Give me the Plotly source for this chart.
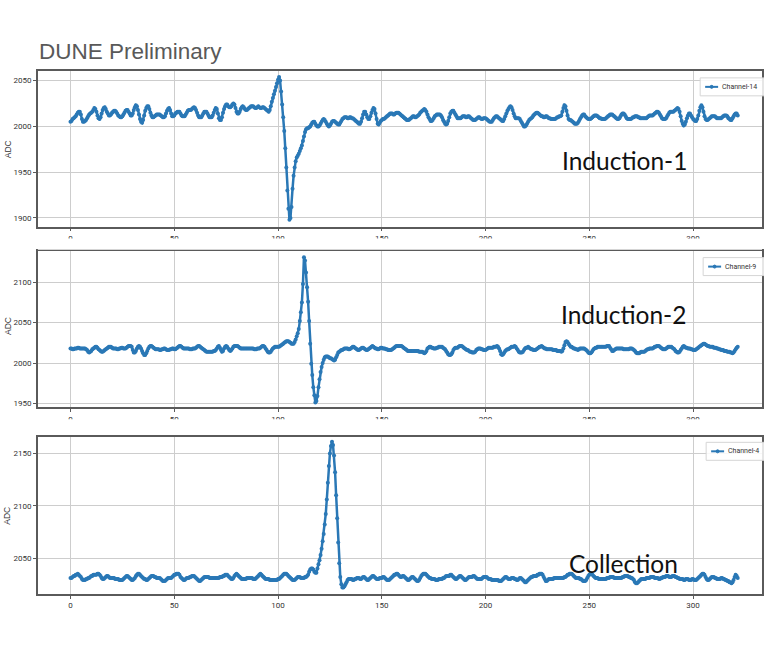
import plotly.graph_objects as go

W, H = 764, 667

# ---------------- data ----------------
sample_period_us = 0.5

induction1 = [
    2005,2006,2008,2009,2010,2011,2013,2015,2016,2016,2013,2008,2005,2005,2006,2007,2009,2011,2013,2014,
    2015,2016,2018,2020,2019,2016,2012,2009,2008,2010,2014,2018,2020,2021,2019,2016,2014,2012,2012,2013,
    2015,2016,2017,2017,2016,2014,2012,2011,2010,2010,2011,2013,2015,2017,2018,2018,2016,2014,2012,2012,
    2014,2018,2021,2023,2022,2018,2013,2008,2005,2004,2007,2012,2017,2020,2022,2022,2019,2015,2012,2010,
    2010,2011,2012,2013,2013,2013,2013,2012,2011,2010,2010,2011,2014,2017,2019,2020,2018,2014,2011,2011,
    2012,2014,2015,2016,2016,2016,2014,2012,2011,2011,2011,2013,2015,2017,2018,2018,2018,2019,2020,2021,
    2020,2018,2015,2012,2010,2010,2010,2012,2014,2016,2016,2016,2014,2012,2010,2010,2010,2012,2015,2018,
    2020,2019,2014,2009,2007,2007,2010,2015,2019,2022,2024,2024,2022,2021,2021,2022,2024,2025,2024,2020,
    2016,2014,2014,2016,2019,2021,2022,2021,2019,2018,2018,2019,2020,2021,2022,2022,2022,2021,2020,2020,
    2021,2022,2021,2020,2020,2021,2021,2020,2019,2018,2017,2016,2018,2022,2027,2031,2035,2039,2043,2047,
    2051,2054,2050,2038,2024,2010,1995,1976,1955,1930,1910,1898,1900,1912,1932,1946,1955,1962,1966,1968,
    1970,1973,1976,1979,1984,1989,1994,1997,1998,1998,1999,2000,2002,2004,2005,2005,2003,2001,2000,2000,
    2001,2003,2005,2007,2008,2007,2005,2003,2001,2000,2001,2003,2005,2006,2006,2005,2004,2003,2002,2002,
    2004,2006,2008,2009,2010,2010,2010,2009,2009,2010,2010,2009,2009,2008,2007,2006,2005,2004,2003,2003,
    2005,2009,2013,2016,2016,2013,2010,2008,2008,2011,2015,2018,2020,2019,2014,2008,2003,2002,2004,2006,
    2007,2008,2008,2009,2010,2011,2012,2013,2014,2014,2014,2013,2013,2014,2015,2015,2015,2014,2013,2012,
    2011,2010,2009,2008,2007,2007,2007,2008,2009,2010,2011,2011,2010,2010,2011,2012,2013,2015,2016,2017,
    2018,2019,2018,2016,2013,2010,2008,2006,2006,2007,2009,2011,2012,2013,2013,2013,2013,2012,2010,2007,
    2005,2003,2002,2003,2006,2010,2014,2016,2017,2017,2015,2013,2011,2009,2009,2009,2009,2010,2011,2011,
    2011,2010,2010,2011,2011,2010,2009,2008,2007,2007,2007,2008,2009,2010,2010,2009,2008,2008,2009,2009,
    2009,2008,2007,2006,2005,2005,2005,2007,2009,2010,2011,2011,2010,2009,2008,2007,2006,2006,2008,2011,
    2014,2017,2019,2021,2022,2021,2018,2014,2011,2009,2009,2009,2009,2008,2006,2004,2002,2000,2000,2001,
    2003,2005,2007,2008,2009,2010,2012,2013,2014,2015,2015,2014,2013,2012,2011,2011,2010,2010,2011,2011,
    2010,2009,2009,2008,2008,2008,2008,2008,2009,2010,2010,2011,2011,2012,2016,2020,2023,2022,2017,2012,
    2008,2007,2007,2006,2005,2004,2003,2003,2003,2004,2006,2008,2010,2012,2013,2013,2011,2010,2009,2008,
    2008,2008,2009,2010,2011,2012,2012,2012,2011,2010,2009,2009,2008,2008,2008,2008,2009,2010,2011,2012,
    2013,2013,2013,2012,2011,2010,2009,2008,2008,2009,2011,2013,2014,2014,2013,2011,2009,2008,2008,2008,
    2008,2009,2010,2010,2011,2011,2011,2010,2010,2009,2009,2009,2009,2009,2009,2009,2010,2011,2012,2012,
    2012,2012,2013,2014,2015,2016,2016,2015,2013,2011,2009,2008,2008,2008,2009,2011,2013,2015,2016,2016,
    2016,2016,2017,2018,2019,2020,2019,2016,2011,2006,2003,2001,2002,2005,2009,2012,2014,2014,2012,2010,
    2008,2007,2006,2006,2008,2012,2017,2021,2023,2021,2016,2011,2008,2007,2007,2008,2009,2010,2011,2011,
    2011,2011,2010,2009,2009,2009,2009,2009,2010,2011,2012,2012,2012,2011,2009,2008,2007,2007,2009,2011,
    2013,2014,2014,2012,
]

induction2 = [
    2018,2018,2017,2017,2018,2018,2018,2019,2019,2018,2018,2018,2018,2018,2018,2017,2016,2014,2013,2014,
    2015,2017,2018,2019,2020,2020,2019,2017,2016,2015,2014,2014,2015,2016,2017,2018,2019,2020,2020,2020,
    2019,2018,2018,2018,2018,2017,2017,2018,2018,2019,2019,2018,2018,2018,2019,2020,2021,2021,2021,2020,
    2016,2013,2013,2015,2018,2020,2021,2020,2018,2015,2012,2010,2010,2012,2015,2018,2020,2021,2021,2020,
    2019,2018,2017,2017,2017,2017,2016,2016,2017,2017,2018,2018,2017,2016,2016,2016,2017,2017,2018,2018,
    2017,2017,2018,2019,2020,2021,2021,2020,2019,2018,2018,2018,2018,2018,2018,2017,2017,2017,2018,2018,
    2018,2019,2020,2021,2021,2020,2019,2018,2017,2016,2015,2014,2014,2014,2014,2014,2014,2014,2015,2015,
    2016,2018,2020,2021,2019,2016,2014,2015,2018,2020,2021,2020,2018,2016,2015,2016,2018,2020,2021,2021,
    2021,2021,2020,2019,2018,2018,2018,2018,2018,2018,2018,2018,2018,2018,2018,2018,2018,2017,2017,2017,
    2018,2018,2018,2019,2020,2021,2021,2020,2018,2016,2014,2013,2013,2014,2016,2018,2019,2020,2020,2020,
    2020,2020,2021,2022,2023,2024,2025,2026,2027,2027,2027,2026,2025,2024,2024,2024,2026,2029,2033,2037,
    2042,2052,2063,2075,2098,2131,2127,2112,2094,2076,2052,2024,1999,1985,1970,1960,1951,1953,1959,1970,
    1980,1989,1995,2000,2004,2007,2008,2008,2008,2007,2006,2006,2005,2004,2003,2004,2007,2010,2013,2014,
    2015,2016,2016,2017,2018,2018,2018,2018,2017,2017,2018,2019,2020,2020,2019,2018,2017,2016,2016,2017,
    2018,2019,2019,2018,2017,2016,2016,2017,2018,2019,2020,2021,2020,2019,2018,2018,2017,2017,2018,2019,
    2019,2018,2018,2018,2017,2017,2016,2016,2016,2016,2017,2018,2019,2020,2021,2021,2021,2021,2021,2021,
    2020,2019,2018,2017,2016,2015,2015,2015,2015,2015,2015,2015,2015,2015,2015,2015,2014,2014,2014,2014,
    2013,2012,2013,2015,2018,2019,2020,2020,2019,2019,2018,2018,2018,2019,2019,2020,2020,2020,2020,2019,
    2018,2017,2015,2013,2011,2010,2010,2011,2013,2016,2018,2019,2019,2019,2020,2021,2021,2021,2020,2019,
    2018,2017,2016,2016,2015,2014,2014,2013,2013,2013,2014,2016,2017,2018,2018,2018,2017,2017,2016,2016,
    2016,2017,2018,2019,2019,2019,2019,2019,2020,2020,2020,2021,2020,2018,2015,2011,2010,2011,2013,2015,
    2016,2017,2017,2018,2019,2020,2020,2020,2021,2020,2018,2016,2014,2013,2013,2013,2014,2016,2018,2019,
    2019,2020,2019,2018,2017,2017,2016,2016,2016,2017,2018,2019,2020,2020,2021,2020,2019,2018,2018,2017,
    2017,2017,2017,2017,2017,2016,2016,2016,2016,2015,2015,2015,2015,2014,2015,2018,2022,2026,2027,2026,
    2024,2022,2020,2020,2019,2018,2018,2017,2017,2016,2017,2018,2018,2018,2018,2018,2017,2016,2015,2013,
    2012,2012,2013,2015,2017,2018,2019,2019,2020,2020,2020,2020,2020,2020,2020,2020,2020,2021,2021,2021,
    2019,2017,2015,2015,2016,2017,2018,2018,2018,2018,2018,2018,2018,2017,2017,2017,2017,2017,2017,2018,
    2018,2018,2017,2016,2015,2013,2012,2012,2012,2013,2014,2014,2014,2014,2015,2016,2017,2017,2018,2018,
    2018,2018,2019,2020,2020,2021,2021,2021,2020,2019,2018,2017,2017,2017,2018,2019,2020,2020,2020,2020,
    2019,2018,2017,2015,2014,2013,2013,2014,2016,2018,2020,2021,2020,2019,2019,2018,2018,2018,2017,2017,
    2016,2016,2016,2017,2018,2019,2020,2021,2022,2023,2024,2024,2023,2022,2021,2021,2020,2020,2020,2020,
    2019,2019,2019,2018,2018,2017,2017,2016,2016,2016,2015,2015,2015,2014,2014,2014,2013,2013,2012,2013,
    2015,2017,2019,2020,
]

collection = [
    2031,2031,2032,2033,2033,2034,2034,2035,2034,2033,2032,2030,2029,2029,2029,2030,2030,2031,2031,2032,
    2033,2033,2034,2034,2034,2034,2035,2035,2034,2033,2031,2030,2030,2031,2032,2033,2033,2032,2031,2031,
    2031,2031,2031,2030,2030,2030,2030,2029,2029,2029,2029,2030,2031,2032,2033,2033,2032,2031,2030,2029,
    2029,2030,2031,2033,2034,2035,2035,2034,2033,2032,2031,2030,2030,2029,2029,2030,2031,2032,2033,2033,
    2033,2032,2032,2031,2031,2031,2031,2030,2029,2028,2028,2028,2029,2030,2031,2031,2031,2031,2032,2033,
    2034,2034,2035,2035,2035,2034,2032,2031,2030,2029,2029,2030,2031,2031,2031,2032,2032,2033,2033,2033,
    2032,2031,2030,2029,2028,2028,2029,2030,2031,2032,2032,2032,2032,2032,2031,2031,2031,2031,2031,2031,
    2031,2031,2031,2031,2032,2032,2032,2033,2033,2034,2034,2034,2033,2032,2031,2030,2030,2031,2033,2034,
    2035,2034,2033,2032,2031,2030,2030,2030,2030,2030,2031,2031,2031,2031,2031,2031,2030,2030,2030,2031,
    2032,2033,2034,2035,2034,2033,2032,2031,2030,2030,2030,2030,2029,2029,2029,2029,2029,2029,2029,2029,
    2030,2030,2031,2032,2033,2034,2035,2035,2035,2034,2033,2032,2031,2030,2029,2029,2029,2030,2031,2032,
    2032,2032,2031,2031,2031,2031,2032,2032,2033,2034,2037,2039,2040,2040,2039,2037,2036,2036,2040,2044,
    2048,2053,2059,2066,2073,2082,2092,2106,2122,2138,2150,2157,2161,2158,2148,2132,2110,2088,2065,2045,
    2032,2025,2022,2022,2023,2025,2027,2029,2030,2030,2030,2030,2029,2029,2030,2030,2031,2031,2031,2030,
    2030,2031,2032,2032,2031,2030,2029,2029,2030,2031,2032,2033,2033,2032,2031,2030,2030,2030,2031,2031,
    2031,2032,2032,2031,2030,2029,2029,2029,2030,2031,2032,2033,2034,2034,2035,2035,2034,2033,2032,2032,
    2033,2033,2032,2031,2030,2029,2029,2030,2031,2032,2032,2031,2030,2029,2028,2028,2029,2031,2033,2034,
    2035,2035,2035,2034,2033,2032,2031,2031,2030,2030,2030,2030,2029,2029,2029,2030,2030,2030,2030,2031,
    2031,2032,2033,2033,2033,2033,2034,2034,2033,2032,2031,2030,2030,2031,2032,2033,2033,2032,2031,2030,
    2029,2029,2030,2031,2032,2032,2032,2032,2033,2033,2032,2031,2030,2030,2030,2030,2030,2031,2032,2032,
    2032,2032,2031,2030,2030,2030,2029,2029,2029,2029,2029,2029,2029,2028,2028,2028,2029,2030,2031,2032,
    2032,2031,2030,2030,2030,2031,2031,2031,2030,2030,2029,2029,2030,2031,2031,2030,2029,2028,2027,2027,
    2028,2029,2030,2031,2032,2032,2033,2033,2033,2033,2034,2034,2035,2035,2035,2034,2032,2030,2028,2028,
    2029,2030,2030,2030,2030,2030,2031,2031,2031,2031,2031,2031,2031,2031,2031,2031,2032,2032,2033,2034,
    2034,2035,2035,2035,2034,2033,2032,2031,2031,2031,2031,2030,2030,2029,2028,2028,2028,2029,2031,2033,
    2034,2035,2035,2034,2033,2032,2031,2031,2031,2030,2030,2030,2030,2030,2030,2030,2030,2031,2031,2031,
    2032,2032,2032,2032,2031,2031,2031,2031,2031,2031,2031,2031,2032,2032,2033,2033,2033,2033,2032,2032,
    2031,2031,2030,2029,2027,2026,2026,2027,2028,2029,2030,2030,2030,2030,2030,2031,2031,2031,2031,2032,
    2032,2032,2032,2031,2031,2031,2031,2030,2030,2031,2031,2032,2032,2032,2033,2033,2033,2032,2032,2032,
    2033,2033,2033,2032,2032,2031,2031,2030,2030,2030,2030,2029,2029,2030,2030,2030,2029,2029,2029,2030,
    2030,2029,2029,2029,2030,2031,2032,2033,2034,2035,2035,2034,2032,2030,2029,2029,2030,2031,2032,2032,
    2032,2031,2031,2030,2030,2030,2030,2031,2031,2030,2030,2029,2029,2028,2028,2027,2027,2026,2027,2029,
    2032,2034,2033,2031,
]

channel_names = ["Channel-14", "Channel-9", "Channel-4"]
plane_labels = ["Induction-1", "Induction-2", "Collection"]
y_title = "ADC"
x_ticks = [0, 50, 100, 150, 200, 250, 300]
y_ticks = [[1900, 1950, 2000, 2050], [1950, 2000, 2050, 2100], [2050, 2100, 2150]]
y_ranges = [[1890.5, 2060.6], [1945, 2138.4], [2015.6, 2166]]
x_range = [-15.7, 333.2]
series = [induction1, induction2, collection]

# ---------------- layout geometry (pixels) ----------------
plot_left_px = 38
ytitle_x_px = 7.5
ytitle_y_px = [149, 326, 516]
panel_px = [(71, 227), (251.7, 408), (437.3, 595)]
label_px = [(626.5, 161), (625.5, 315), (625.5, 564)]
legend_px = [(702, 78), (705, 258), (708, 443)]
tick_cover_px = [(238.8, 250), (420, 435.5)]   # lower halves of clipped tick labels

LINE = "#2a78b6"
TICKFONT = "Roboto, Liberation Sans, sans-serif"
LABELFONT = "Lato, Roboto, sans-serif"
SANS = "Liberation Sans, Arial, sans-serif"


def fx(p):
    return p / W


def fy(p):
    return 1 - p / H


fig = go.Figure()
shapes, annotations = [], []

for k in range(3):
    ys = series[k]
    xs = [i * sample_period_us for i in range(len(ys))]
    xa = "x" if k == 0 else f"x{k+1}"
    ya = "y" if k == 0 else f"y{k+1}"
    fig.add_trace(go.Scatter(
        x=xs, y=ys, mode="lines+markers", name=channel_names[k],
        line=dict(color=LINE, width=2.5), marker=dict(color=LINE, size=4),
        xaxis=xa, yaxis=ya, showlegend=False, hoverinfo="skip"))

    top, bot = panel_px[k]
    axis_common = dict(showline=True, mirror=True, linecolor="#5a5a5a", linewidth=1.5,
                       showgrid=True, gridcolor="#cdcdcd", gridwidth=1, zeroline=False,
                       ticks="outside", ticklen=3, tickcolor="#5a5a5a",
                       tickfont=dict(family=TICKFONT, size=8, color="#333"))
    xkey = "xaxis" if k == 0 else f"xaxis{k+1}"
    ykey = "yaxis" if k == 0 else f"yaxis{k+1}"
    fig.layout[xkey] = dict(axis_common, domain=[fx(plot_left_px), 1], range=x_range,
                            tickvals=x_ticks, anchor=ya)
    fig.layout[ykey] = dict(axis_common, domain=[fy(bot), fy(top)], range=y_ranges[k],
                            tickvals=y_ticks[k], anchor=xa)

    # y axis title
    annotations.append(dict(text=y_title, x=fx(ytitle_x_px), y=fy(ytitle_y_px[k]),
                            xref="paper", yref="paper", xanchor="center", yanchor="middle",
                            textangle=-90, showarrow=False,
                            font=dict(family=SANS, size=8.5, color="#333")))

    # plane label
    lx, ly = label_px[k]
    annotations.append(dict(text=plane_labels[k], x=fx(lx), y=fy(ly), xref="paper", yref="paper",
                            xanchor="center", yanchor="middle", showarrow=False,
                            font=dict(family=LABELFONT, size=24.5, color="#111")))

    # legend box (drawn, matplotlib style)
    gx, gy = legend_px[k]
    shapes.append(dict(type="rect", xref="paper", yref="paper", x0=fx(gx), x1=fx(gx + 80),
                       y0=fy(gy + 18), y1=fy(gy), line=dict(color="#d5d5d5", width=1),
                       fillcolor="rgba(255,255,255,0.85)", layer="above"))
    shapes.append(dict(type="line", xref="paper", yref="paper", x0=fx(gx + 5), x1=fx(gx + 18),
                       y0=fy(gy + 9), y1=fy(gy + 9), line=dict(color=LINE, width=2), layer="above"))
    shapes.append(dict(type="circle", xref="paper", yref="paper", x0=fx(gx + 10), x1=fx(gx + 13),
                       y0=fy(gy + 10.5), y1=fy(gy + 7.5), line=dict(color=LINE, width=1),
                       fillcolor=LINE, layer="above"))
    annotations.append(dict(text=channel_names[k], x=fx(gx + 20), y=fy(gy + 9), xref="paper",
                            yref="paper", xanchor="left", yanchor="middle", showarrow=False,
                            font=dict(family=TICKFONT, size=7, color="#333")))

# the upper panels' x tick labels are half hidden in the original screenshot
for c0, c1 in tick_cover_px:
    shapes.append(dict(type="rect", xref="paper", yref="paper", x0=fx(plot_left_px), x1=1,
                       y0=fy(c1), y1=fy(c0), line=dict(width=0), fillcolor="white", layer="above"))

annotations.append(dict(text="DUNE Preliminary", x=fx(37), y=fy(52), xref="paper", yref="paper",
                        xanchor="left", yanchor="middle", showarrow=False,
                        font=dict(family=SANS, size=22.5, color="#595959")))

fig.update_layout(width=W, height=H, margin=dict(l=0, r=0, t=0, b=0),
                  paper_bgcolor="white", plot_bgcolor="white",
                  shapes=shapes, annotations=annotations, showlegend=False)

fig.write_html("out.html")
